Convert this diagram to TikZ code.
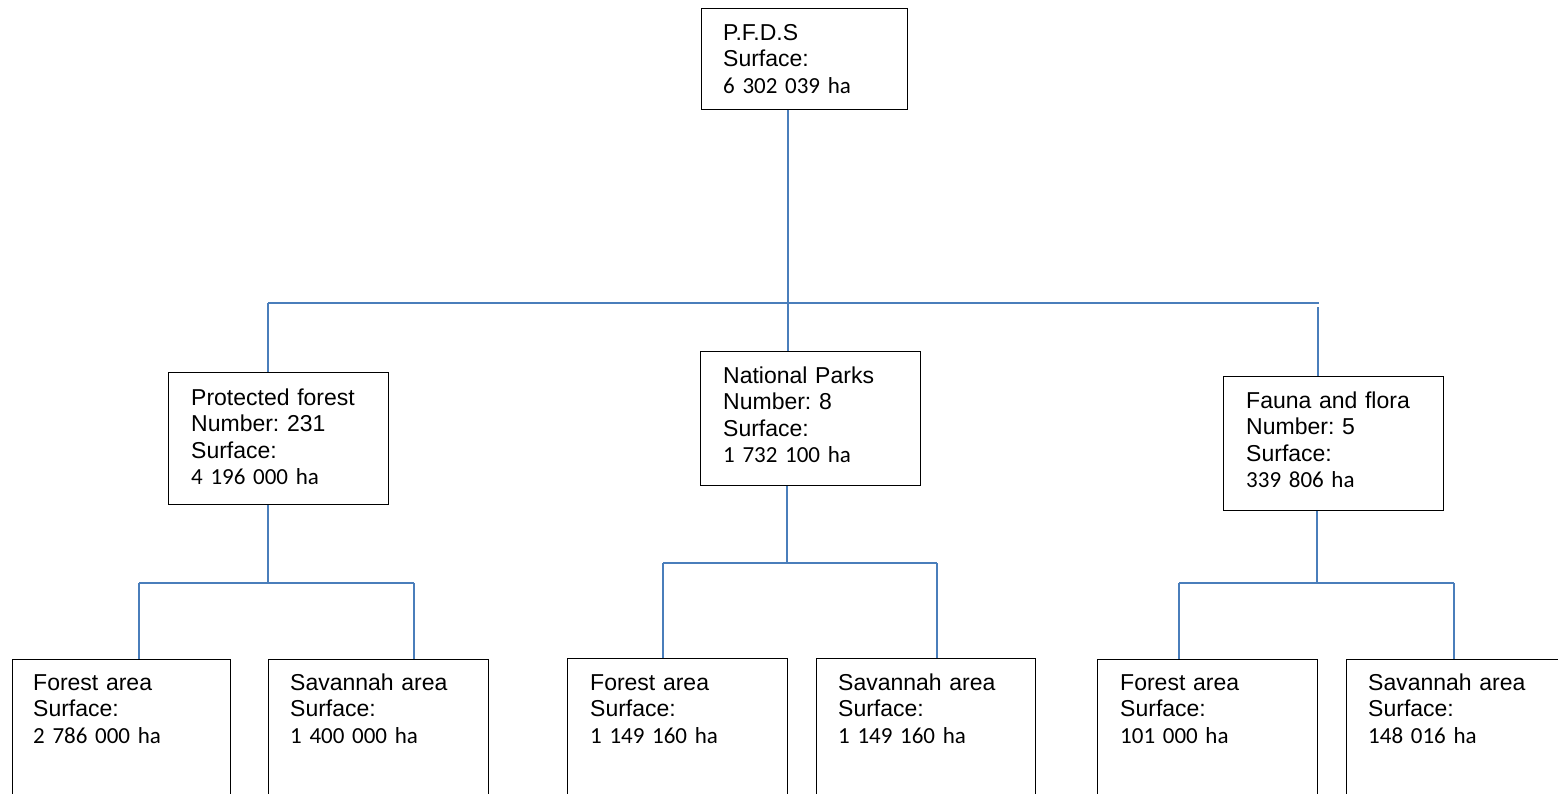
\documentclass[tikz,border=0pt]{standalone}
\usepackage{fontspec}
\setmainfont{Liberation Sans}
\newfontfamily\calfont[WordSpace=0.6]{Carlito}
\newcommand\hanum[1]{{\calfont #1}}
\definecolor{linkblue}{HTML}{4A7EBB}
\frenchspacing
\begin{document}
\begin{tikzpicture}[x=1pt,y=-1pt,
  box/.style={draw=black,line width=0.9pt,anchor=north west,inner sep=0pt,minimum width=220pt},
  txt/.style={anchor=base west,inner sep=0pt,text width=200pt,align=left,font=\fontsize{23}{26.5}\selectfont\frenchspacing},
  conn/.style={draw=linkblue,line width=1.6pt}]
\useasboundingbox (0,0) rectangle (1558,793);
% boxes
\node[box,minimum width=206pt,minimum height=101pt] (pfds) at (701,8) {};
\node[box,minimum height=132pt] (prot) at (168,372) {};
\node[box,minimum height=134pt] (nat) at (700,351) {};
\node[box,minimum height=134pt] (fau) at (1223,376) {};
\node[box,minimum width=218pt,minimum height=150pt] (f1) at (12,659) {};
\node[box,minimum height=150pt] (s1) at (268,659) {};
\node[box,minimum height=150pt] (f2) at (567,658) {};
\node[box,minimum width=219pt,minimum height=150pt] (s2) at (816,658) {};
\node[box,minimum height=150pt] (f3) at (1097,659) {};
\node[box,minimum height=150pt] (s3) at (1346,659) {};
% texts
\node[txt] (pfdsT) at (723,40) {P.F.D.S\\Surface:\\\hanum{6 302 039 ha}};
\node[txt] (protT) at (191,405) {Protected forest\\Number: 231\\Surface:\\\hanum{4 196 000 ha}};
\node[txt] (natT) at (723,383) {National Parks\\Number: 8\\Surface:\\\hanum{1 732 100 ha}};
\node[txt] (fauT) at (1246,408) {Fauna and flora\\Number: 5\\Surface:\\\hanum{339 806 ha}};
\node[txt] (f1T) at (33,690) {Forest area\\Surface:\\\hanum{2 786 000 ha}};
\node[txt] (s1T) at (290,690) {Savannah area\\Surface:\\\hanum{1 400 000 ha}};
\node[txt] (f2T) at (590,690) {Forest area\\Surface:\\\hanum{1 149 160 ha}};
\node[txt] (s2T) at (838,690) {Savannah area\\Surface:\\\hanum{1 149 160 ha}};
\node[txt] (f3T) at (1120,690) {Forest area\\Surface:\\\hanum{101 000 ha}};
\node[txt] (s3T) at (1368,690) {Savannah area\\Surface:\\\hanum{148 016 ha}};
% junction coordinates
\coordinate (j0) at (788,303);
\coordinate (hl) at (268,303);
\coordinate (hr) at (1319,303);
\coordinate (hr2) at (1318,307);
\coordinate (ja) at (268,583);
\coordinate (jal) at (139,583);
\coordinate (jar) at (414,583);
\coordinate (jb) at (787,563);
\coordinate (jbl) at (663,563);
\coordinate (jbr) at (937,563);
\coordinate (jc) at (1317,583);
\coordinate (jcl) at (1179,583);
\coordinate (jcr) at (1454,583);
% top level connectors
\draw[conn] (pfds.south -| j0) -- (j0);
\draw[conn] (hl) -- (hr);
\draw[conn] (hl) -- (hl |- prot.north);
\draw[conn] (j0) -- (j0 |- nat.north);
\draw[conn] (hr2) -- (hr2 |- fau.north);
% left subtree
\draw[conn] (ja |- prot.south) -- (ja);
\draw[conn] (jal) -- (jar);
\draw[conn] (jal) -- (jal |- f1.north);
\draw[conn] (jar) -- (jar |- s1.north);
% middle subtree
\draw[conn] (jb |- nat.south) -- (jb);
\draw[conn] (jbl) -- (jbr);
\draw[conn] (jbl) -- (jbl |- f2.north);
\draw[conn] (jbr) -- (jbr |- s2.north);
% right subtree
\draw[conn] (jc |- fau.south) -- (jc);
\draw[conn] (jcl) -- (jcr);
\draw[conn] (jcl) -- (jcl |- f3.north);
\draw[conn] (jcr) -- (jcr |- s3.north);
\end{tikzpicture}
\end{document}
